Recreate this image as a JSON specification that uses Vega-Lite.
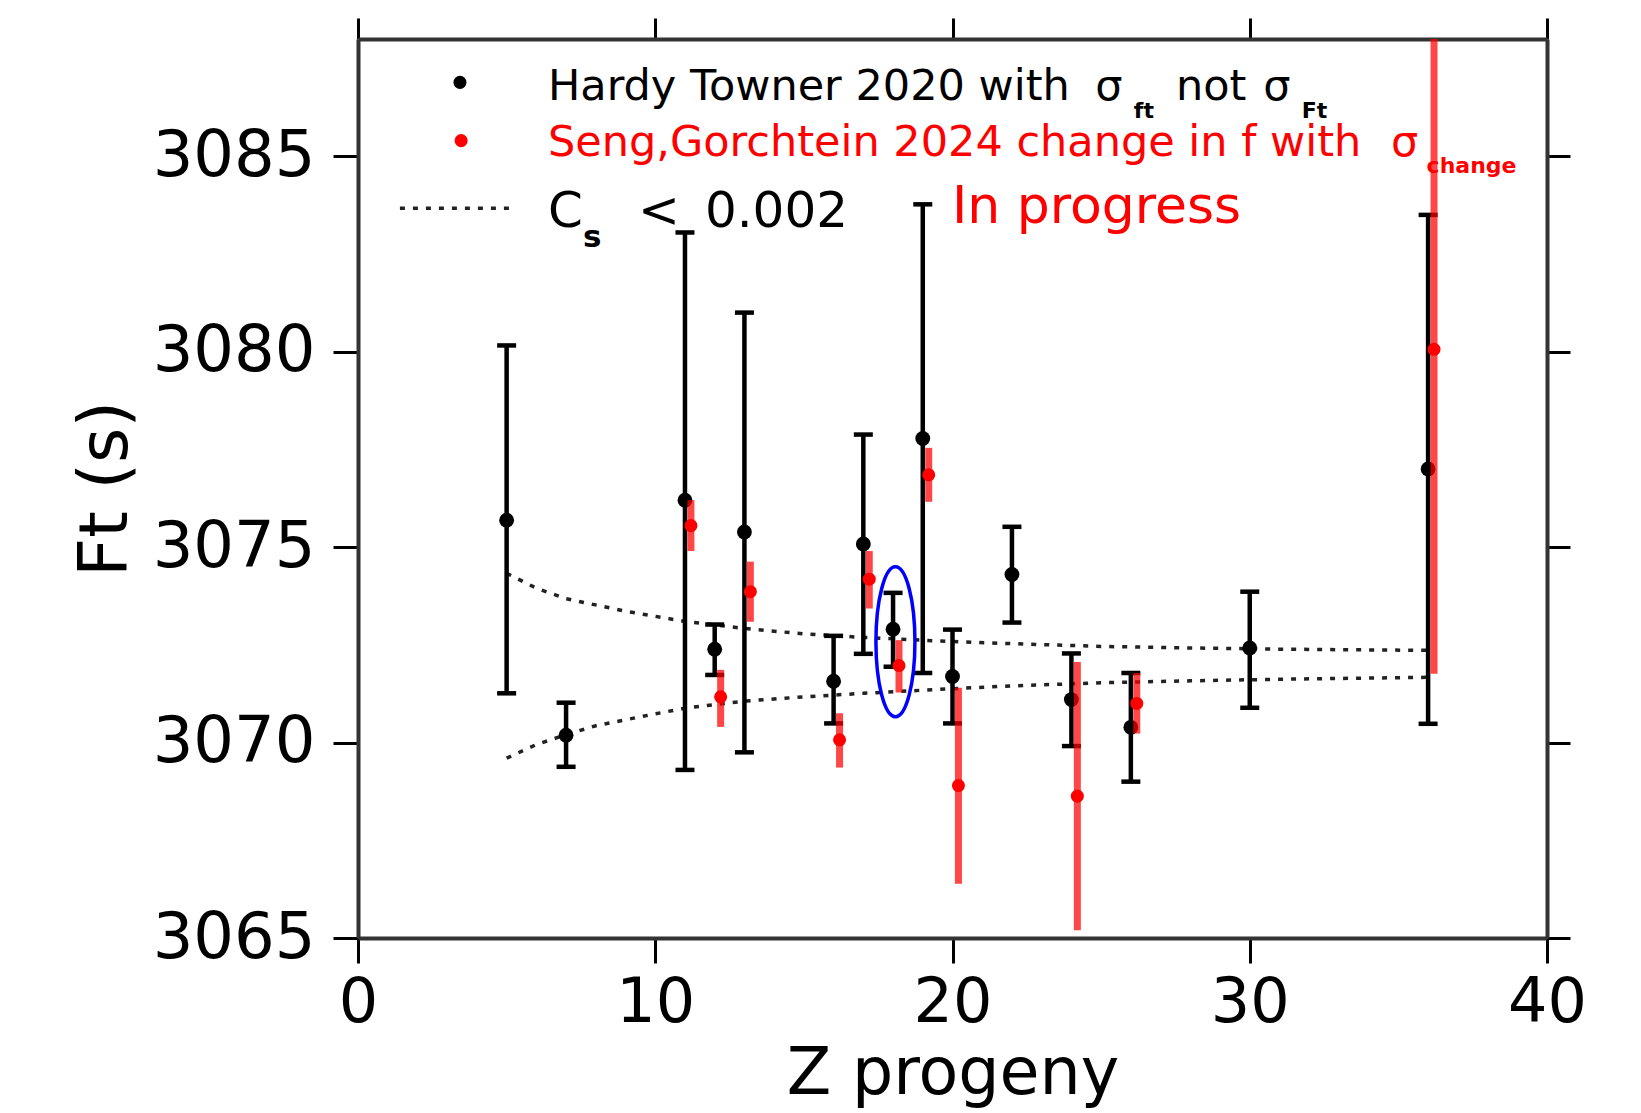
{
  "$schema": "https://vega.github.io/schema/vega-lite/v6.json",
  "width": 1189,
  "height": 899,
  "autosize": {"type": "none"},
  "padding": {"left": 358, "top": 39, "right": 94, "bottom": 175},
  "background": "white",
  "config": {"view": {"stroke": null}},
  "datasets": {
    "ht": [
      {"z": 5, "ft": 3075.69, "lo": 3071.26, "hi": 3080.16},
      {"z": 7, "ft": 3070.19, "lo": 3069.38, "hi": 3071.02},
      {"z": 11, "ft": 3076.2, "lo": 3069.3, "hi": 3083.05},
      {"z": 12, "ft": 3072.39, "lo": 3071.73, "hi": 3073.02},
      {"z": 13, "ft": 3075.39, "lo": 3069.75, "hi": 3081.0},
      {"z": 16, "ft": 3071.57, "lo": 3070.49, "hi": 3072.73},
      {"z": 17, "ft": 3075.08, "lo": 3072.27, "hi": 3077.88},
      {"z": 18, "ft": 3072.9, "lo": 3071.94, "hi": 3073.83},
      {"z": 19, "ft": 3077.78, "lo": 3071.78, "hi": 3083.77},
      {"z": 20, "ft": 3071.69, "lo": 3070.49, "hi": 3072.89},
      {"z": 22, "ft": 3074.3, "lo": 3073.07, "hi": 3075.52},
      {"z": 24, "ft": 3071.1, "lo": 3069.91, "hi": 3072.28},
      {"z": 26, "ft": 3070.39, "lo": 3069.0, "hi": 3071.78},
      {"z": 30, "ft": 3072.42, "lo": 3070.89, "hi": 3073.86},
      {"z": 36, "ft": 3077.0, "lo": 3070.48, "hi": 3083.5}
    ],
    "sg": [
      {"z": 11.2, "ft": 3075.55, "lo": 3074.9, "hi": 3076.2},
      {"z": 12.2, "ft": 3071.17, "lo": 3070.4, "hi": 3071.86},
      {"z": 13.2, "ft": 3073.86, "lo": 3073.09, "hi": 3074.63},
      {"z": 16.2, "ft": 3070.07, "lo": 3069.36, "hi": 3070.75},
      {"z": 17.2, "ft": 3074.18, "lo": 3073.43, "hi": 3074.9},
      {"z": 18.2, "ft": 3071.97, "lo": 3071.28, "hi": 3072.62},
      {"z": 19.2, "ft": 3076.85, "lo": 3076.16, "hi": 3077.54},
      {"z": 20.2, "ft": 3068.9, "lo": 3066.39, "hi": 3071.4},
      {"z": 24.2, "ft": 3068.63, "lo": 3065.2, "hi": 3072.06},
      {"z": 26.2, "ft": 3071.0, "lo": 3070.23, "hi": 3071.78},
      {"z": 36.2, "ft": 3080.06, "lo": 3071.76, "hi": 3088.4}
    ],
    "cs": [
      {"curve": "upper", "z": 5, "ft": 3074.33},
      {"curve": "upper", "z": 6, "ft": 3073.95},
      {"curve": "upper", "z": 7, "ft": 3073.68},
      {"curve": "upper", "z": 9, "ft": 3073.36},
      {"curve": "upper", "z": 11, "ft": 3073.1},
      {"curve": "upper", "z": 13, "ft": 3072.92},
      {"curve": "upper", "z": 15, "ft": 3072.78},
      {"curve": "upper", "z": 17, "ft": 3072.69},
      {"curve": "upper", "z": 19.5, "ft": 3072.6},
      {"curve": "upper", "z": 22, "ft": 3072.53},
      {"curve": "upper", "z": 25, "ft": 3072.46},
      {"curve": "upper", "z": 28, "ft": 3072.42},
      {"curve": "upper", "z": 31, "ft": 3072.39},
      {"curve": "upper", "z": 34, "ft": 3072.37},
      {"curve": "upper", "z": 36, "ft": 3072.36},
      {"curve": "lower", "z": 5, "ft": 3069.6},
      {"curve": "lower", "z": 6, "ft": 3069.95},
      {"curve": "lower", "z": 7, "ft": 3070.2},
      {"curve": "lower", "z": 8, "ft": 3070.43},
      {"curve": "lower", "z": 9.5, "ft": 3070.66},
      {"curve": "lower", "z": 11, "ft": 3070.88},
      {"curve": "lower", "z": 13, "ft": 3071.06},
      {"curve": "lower", "z": 15, "ft": 3071.17},
      {"curve": "lower", "z": 17, "ft": 3071.26},
      {"curve": "lower", "z": 19.5, "ft": 3071.36},
      {"curve": "lower", "z": 22, "ft": 3071.45},
      {"curve": "lower", "z": 25, "ft": 3071.53},
      {"curve": "lower", "z": 28, "ft": 3071.58},
      {"curve": "lower", "z": 31, "ft": 3071.62},
      {"curve": "lower", "z": 34, "ft": 3071.65},
      {"curve": "lower", "z": 36, "ft": 3071.67},
      {"curve": "legend", "z": 1.41, "ft": 3083.67},
      {"curve": "legend", "z": 5.28, "ft": 3083.67}
    ]
  },
  "resolve": {"axis": {"x": "independent", "y": "independent"}},
  "layer": [
    {
      "data": {"name": "cs"},
      "mark": {"type": "line", "color": "#222222", "strokeWidth": 3.5, "strokeDash": [5, 8]},
      "encoding": {
        "x": {"field": "z", "type": "quantitative", "scale": {"domain": [0, 40], "nice": false, "zero": false},
          "axis": {"orient": "bottom", "values": [0, 10, 20, 30, 40], "grid": false, "tickSize": 25, "tickWidth": 3, "tickColor": "#000000",
            "domainColor": "#333333", "domainWidth": 4, "labelFont": "DejaVu Sans", "labelFontSize": 62, "labelColor": "#000000",
            "labelPadding": 9, "labelFlush": false, "labelOverlap": false, "title": "Z progeny", "titleFont": "DejaVu Sans",
            "titleFontSize": 65, "titleFontWeight": "normal", "titleColor": "#000000", "titlePadding": 9}},
        "y": {"field": "ft", "type": "quantitative", "scale": {"domain": [3065, 3088], "nice": false, "zero": false},
          "axis": {"orient": "left", "values": [3065, 3070, 3075, 3080, 3085], "format": "d", "grid": false, "tickSize": 25, "tickWidth": 3,
            "tickColor": "#000000", "domainColor": "#333333", "domainWidth": 4, "labelFont": "DejaVu Sans", "labelFontSize": 64,
            "labelColor": "#000000", "labelPadding": 18, "labelFlush": false, "labelOverlap": false, "title": "Ft (s)",
            "titleFont": "DejaVu Sans", "titleFontSize": 68, "titleFontWeight": "normal", "titleColor": "#000000", "titlePadding": 18}},
        "detail": {"field": "curve", "type": "nominal"}
      }
    },
    {
      "data": {"name": "ht"},
      "mark": {"type": "rule", "color": "#000000", "strokeWidth": 4.5},
      "encoding": {
        "x": {"field": "z", "type": "quantitative", "scale": {"domain": [0, 40], "nice": false, "zero": false},
          "axis": {"orient": "top", "values": [0, 10, 20, 30, 40], "grid": false, "labels": false, "title": null, "tickSize": 21,
            "tickWidth": 3, "tickColor": "#000000", "domainColor": "#333333", "domainWidth": 4}},
        "y": {"field": "lo", "type": "quantitative", "scale": {"domain": [3065, 3088], "nice": false, "zero": false},
          "axis": {"orient": "right", "values": [3065, 3070, 3075, 3080, 3085], "grid": false, "labels": false, "title": null, "tickSize": 23,
            "tickWidth": 3, "tickColor": "#000000", "domainColor": "#333333", "domainWidth": 4}},
        "y2": {"field": "hi"}
      }
    },
    {
      "data": {"name": "ht"},
      "layer": [
        {"mark": {"type": "point", "shape": "M-1,0L1,0", "size": 361, "filled": false, "stroke": "#000000", "strokeWidth": 4.5, "opacity": 1},
         "encoding": {"y": {"field": "lo", "type": "quantitative", "axis": null}}},
        {"mark": {"type": "point", "shape": "M-1,0L1,0", "size": 361, "filled": false, "stroke": "#000000", "strokeWidth": 4.5, "opacity": 1},
         "encoding": {"y": {"field": "hi", "type": "quantitative", "axis": null}}},
        {"mark": {"type": "point", "shape": "circle", "size": 220, "filled": true, "color": "#000000", "opacity": 1},
         "encoding": {"y": {"field": "ft", "type": "quantitative", "axis": null}}}
      ],
      "encoding": {"x": {"field": "z", "type": "quantitative", "axis": null}}
    },
    {
      "data": {"name": "sg"},
      "mark": {"type": "rule", "color": "#ff0000", "strokeWidth": 7, "opacity": 0.72, "clip": true},
      "encoding": {
        "x": {"field": "z", "type": "quantitative", "axis": null},
        "y": {"field": "lo", "type": "quantitative", "axis": null},
        "y2": {"field": "hi"}
      }
    },
    {
      "data": {"name": "sg"},
      "mark": {"type": "point", "shape": "circle", "size": 170, "filled": true, "color": "#ff0000", "opacity": 1},
      "encoding": {
        "x": {"field": "z", "type": "quantitative", "axis": null},
        "y": {"field": "ft", "type": "quantitative", "axis": null}
      }
    },
    {
      "data": {"values": [{"z": 18.08, "ft": 3072.58}]},
      "mark": {"type": "point", "shape": "M0,-1C0.1436,-1,0.26,-0.5523,0.26,0C0.26,0.5523,0.1436,1,0,1C-0.1436,1,-0.26,0.5523,-0.26,0C-0.26,-0.5523,-0.1436,-1,0,-1Z",
        "size": 22500, "filled": false, "stroke": "#0000ff", "strokeWidth": 3.5, "opacity": 1},
      "encoding": {
        "x": {"field": "z", "type": "quantitative", "axis": null},
        "y": {"field": "ft", "type": "quantitative", "axis": null}
      }
    },
    {
      "data": {"values": [{"z": 3.43, "ft": 3086.89, "series": "Hardy Towner 2020"}, {"z": 3.47, "ft": 3085.4, "series": "Seng,Gorchtein 2024"}]},
      "mark": {"type": "point", "shape": "circle", "size": 170, "filled": true, "opacity": 1},
      "encoding": {
        "x": {"field": "z", "type": "quantitative", "axis": null},
        "y": {"field": "ft", "type": "quantitative", "axis": null},
        "color": {"field": "series", "type": "nominal", "scale": {"domain": ["Hardy Towner 2020", "Seng,Gorchtein 2024"], "range": ["#000000", "#ff0000"]}, "legend": null}
      }
    },
    {
      "data": {"values": [
        {"z": 6.39, "ft": 3086.44, "label": "Hardy Towner 2020 with"},
        {"z": 24.8, "ft": 3086.44, "label": "σ"},
        {"z": 27.52, "ft": 3086.44, "label": "not"},
        {"z": 30.45, "ft": 3086.44, "label": "σ"}
      ]},
      "mark": {"type": "text", "align": "left", "baseline": "alphabetic", "font": "DejaVu Sans", "fontSize": 43, "color": "#000000"},
      "encoding": {
        "x": {"field": "z", "type": "quantitative", "axis": null},
        "y": {"field": "ft", "type": "quantitative", "axis": null},
        "text": {"field": "label"}
      }
    },
    {
      "data": {"values": [
        {"z": 26.1, "ft": 3085.98, "label": "ft"},
        {"z": 31.75, "ft": 3085.98, "label": "Ft"}
      ]},
      "mark": {"type": "text", "align": "left", "baseline": "alphabetic", "font": "DejaVu Sans", "fontSize": 22, "fontWeight": "bold", "color": "#000000"},
      "encoding": {
        "x": {"field": "z", "type": "quantitative", "axis": null},
        "y": {"field": "ft", "type": "quantitative", "axis": null},
        "text": {"field": "label"}
      }
    },
    {
      "data": {"values": [
        {"z": 6.39, "ft": 3085.0, "label": "Seng,Gorchtein 2024 change in f with"},
        {"z": 34.75, "ft": 3085.0, "label": "σ"}
      ]},
      "mark": {"type": "text", "align": "left", "baseline": "alphabetic", "font": "DejaVu Sans", "fontSize": 43, "color": "#ff0000"},
      "encoding": {
        "x": {"field": "z", "type": "quantitative", "axis": null},
        "y": {"field": "ft", "type": "quantitative", "axis": null},
        "text": {"field": "label"}
      }
    },
    {
      "data": {"values": [{"z": 35.95, "ft": 3084.57, "label": "change"}]},
      "mark": {"type": "text", "align": "left", "baseline": "alphabetic", "font": "DejaVu Sans", "fontSize": 22, "fontWeight": "bold", "color": "#ff0000"},
      "encoding": {
        "x": {"field": "z", "type": "quantitative", "axis": null},
        "y": {"field": "ft", "type": "quantitative", "axis": null},
        "text": {"field": "label"}
      }
    },
    {
      "data": {"values": [{"z": 19.98, "ft": 3083.28, "label": "In progress"}]},
      "mark": {"type": "text", "align": "left", "baseline": "alphabetic", "font": "DejaVu Sans", "fontSize": 52, "color": "#ff0000"},
      "encoding": {
        "x": {"field": "z", "type": "quantitative", "axis": null},
        "y": {"field": "ft", "type": "quantitative", "axis": null},
        "text": {"field": "label"}
      }
    },
    {
      "data": {"values": [
        {"z": 6.39, "ft": 3083.2, "label": "C"},
        {"z": 9.42, "ft": 3083.2, "label": "<"},
        {"z": 11.67, "ft": 3083.2, "label": "0.002"}
      ]},
      "mark": {"type": "text", "align": "left", "baseline": "alphabetic", "font": "DejaVu Sans", "fontSize": 50, "color": "#000000"},
      "encoding": {
        "x": {"field": "z", "type": "quantitative", "axis": null},
        "y": {"field": "ft", "type": "quantitative", "axis": null},
        "text": {"field": "label"}
      }
    },
    {
      "data": {"values": [{"z": 7.57, "ft": 3082.68, "label": "s"}]},
      "mark": {"type": "text", "align": "left", "baseline": "alphabetic", "font": "DejaVu Sans", "fontSize": 31, "fontWeight": "bold", "color": "#000000"},
      "encoding": {
        "x": {"field": "z", "type": "quantitative", "axis": null},
        "y": {"field": "ft", "type": "quantitative", "axis": null},
        "text": {"field": "label"}
      }
    }
  ]
}
